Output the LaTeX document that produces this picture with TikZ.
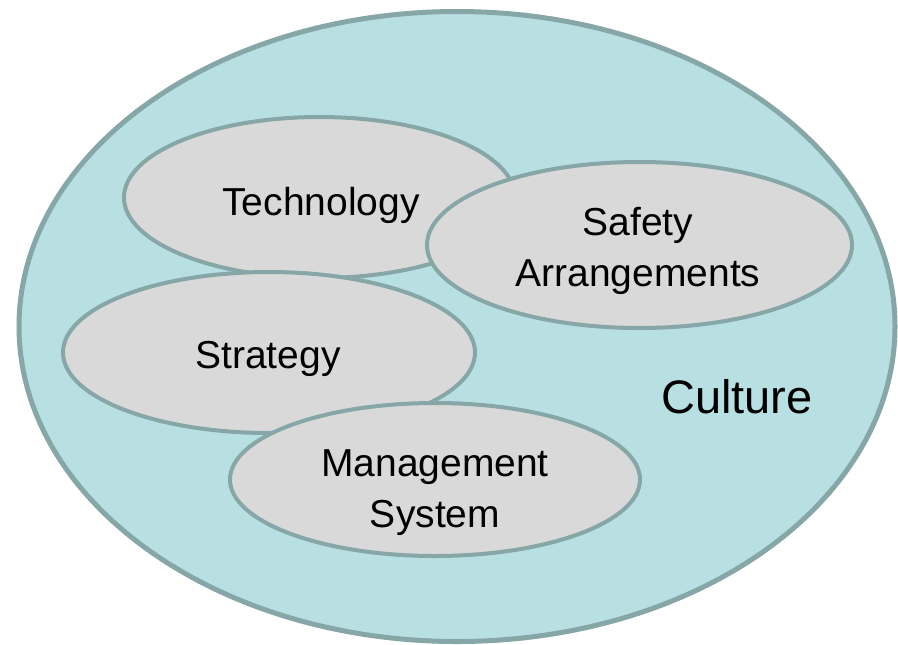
\documentclass[tikz,border=0pt]{standalone}
\usepackage{fontspec}
\setmainfont{Liberation Sans}
\usetikzlibrary{shapes.geometric}
\definecolor{culturefill}{RGB}{184,224,227}
\definecolor{edgecol}{RGB}{134,166,168}
\definecolor{innerfill}{RGB}{217,217,217}
\tikzset{
  x=0.5pt, y=-0.5pt,
  outerell/.style={ellipse, draw=edgecol, fill=culturefill, line width=2.5pt, inner sep=0pt},
  innerell/.style={ellipse, draw=edgecol, fill=innerfill, line width=2pt, inner sep=0pt},
  lbl/.style={inner sep=0pt, align=center, font=\fontsize{19.5}{25.5}\selectfont},
  biglbl/.style={inner sep=0pt, font=\fontsize{23.5}{28}\selectfont}
}
\begin{document}
\begin{tikzpicture}
\useasboundingbox (0,0) rectangle (898,644);
\node[outerell, minimum width=438pt, minimum height=315pt] (culture) at (457,326.5) {};
\node[innerell, minimum width=195.5pt, minimum height=80.5pt] (tech) at (319.5,197.5) {};
\node[innerell, minimum width=212.5pt, minimum height=83pt] (safety) at (639.5,245) {};
\node[innerell, minimum width=206pt, minimum height=80.5pt] (strat) at (269,352.5) {};
\node[innerell, minimum width=205pt, minimum height=76.5pt] (mgmt) at (435,479.5) {};
\node[lbl, anchor=base] (techt) at (321,215) {Technology};
\node[lbl, anchor=base] (stratt) at (268,368) {Strategy};
\node[lbl] (safetyt) at (638,251) {Safety\\Arrangements};
\node[lbl] (mgmtt) at (435,493) {Management\\System};
\node[biglbl, anchor=base] (culturet) at (737,413) {Culture};
\end{tikzpicture}
\end{document}
